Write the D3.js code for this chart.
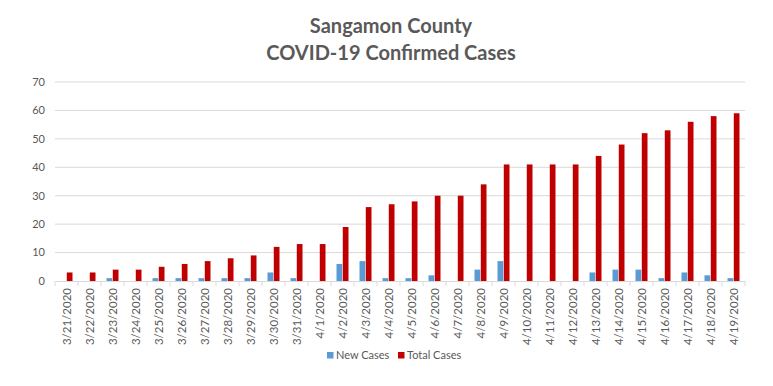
<!DOCTYPE html>
<html><head><meta charset="utf-8">
<script src="https://cdn.jsdelivr.net/npm/d3@7"></script>
<style>body{margin:0;background:#fff}svg{display:block}text{font-family:Lato,"Open Sans",sans-serif}</style>
</head><body><svg id="c" width="773" height="386"></svg>
<script>
const dates = ["3/21/2020","3/22/2020","3/23/2020","3/24/2020","3/25/2020","3/26/2020","3/27/2020","3/28/2020","3/29/2020","3/30/2020","3/31/2020","4/1/2020","4/2/2020","4/3/2020","4/4/2020","4/5/2020","4/6/2020","4/7/2020","4/8/2020","4/9/2020","4/10/2020","4/11/2020","4/12/2020","4/13/2020","4/14/2020","4/15/2020","4/16/2020","4/17/2020","4/18/2020","4/19/2020"];
const newCases = [0,0,1,0,1,1,1,1,1,3,1,0,6,7,1,1,2,0,4,7,0,0,0,3,4,4,1,3,2,1];
const totalCases = [3,3,4,4,5,6,7,8,9,12,13,13,19,26,27,28,30,30,34,41,41,41,41,44,48,52,53,56,58,59];
const seriesNames = ["New Cases","Total Cases"];
const colors = ["#5b9bd5","#c00000"];
const yTicks = [0,10,20,30,40,50,60,70];

const svg = d3.select("#c");
const L=55, R=745, T=82, B=281;
const x = d3.scaleBand().domain(dates).range([L,R]).paddingInner(0).paddingOuter(0);
const y = d3.scaleLinear().domain([0,70]).range([B,T]);
const bw = 5.5;
const sub = d3.scaleBand().domain(seriesNames).range([x.bandwidth()/2 - bw - 0.5, x.bandwidth()/2 + bw + 0.5]).paddingInner(0.09);

// grid
svg.append("g").selectAll("line").data(yTicks.slice(1)).join("line")
  .attr("x1",L).attr("x2",R).attr("y1",d=>y(d)).attr("y2",d=>y(d))
  .attr("stroke","#d9d9d9").attr("stroke-width",1);

// y labels
svg.append("g").selectAll("text").data(yTicks).join("text")
  .attr("x",45).attr("y",d=>y(d)).attr("dy","0.35em").attr("text-anchor","end")
  .attr("font-size",11).attr("fill","#595959").text(d=>d);

// bars
const data = dates.map((d,i)=>({d, v:[newCases[i], totalCases[i]]}));
const g = svg.append("g");
seriesNames.forEach((s,si)=>{
  g.selectAll(null).data(data).join("rect")
   .attr("x",d=>x(d.d)+sub(s)).attr("width",sub.bandwidth())
   .attr("y",d=>y(d.v[si])).attr("height",d=>B-y(d.v[si]))
   .attr("fill",colors[si]);
});

// x axis
const xa = svg.append("g").attr("transform",`translate(0,${B})`)
  .call(d3.axisBottom(x).tickSize(0).tickPadding(0));
xa.select(".domain").attr("stroke","#d9d9d9");
xa.selectAll(".tick text").attr("transform","rotate(-90)").attr("text-anchor","end")
  .attr("x",-7).attr("y",0).attr("dy","0.35em").attr("font-size",11.5).attr("fill","#595959")
  .style("font-family","Lato,'Open Sans',sans-serif");
svg.append("g").selectAll("line").data(d3.range(dates.length+1)).join("line")
  .attr("x1",i=>L+i*x.step()).attr("x2",i=>L+i*x.step()).attr("y1",B).attr("y2",B+5)
  .attr("stroke","#d9d9d9");

// title
svg.append("text").attr("x",391).attr("y",33).attr("text-anchor","middle")
  .attr("font-size",20).attr("font-weight","bold").attr("fill","#595959").text("Sangamon County");
svg.append("text").attr("x",391).attr("y",60).attr("text-anchor","middle")
  .attr("font-size",20).attr("font-weight","bold").attr("fill","#595959").text("COVID-19 Confirmed Cases");

// legend
const lg = svg.append("g");
const lx = [327, 398];
seriesNames.forEach((s,i)=>{
  lg.append("rect").attr("x",lx[i]).attr("y",352).attr("width",6.5).attr("height",6.5).attr("fill",colors[i]);
  lg.append("text").attr("x",lx[i]+9).attr("y",355.5).attr("dy","0.35em").attr("font-size",11)
    .attr("fill","#595959").text(s);
});
</script></body></html>
